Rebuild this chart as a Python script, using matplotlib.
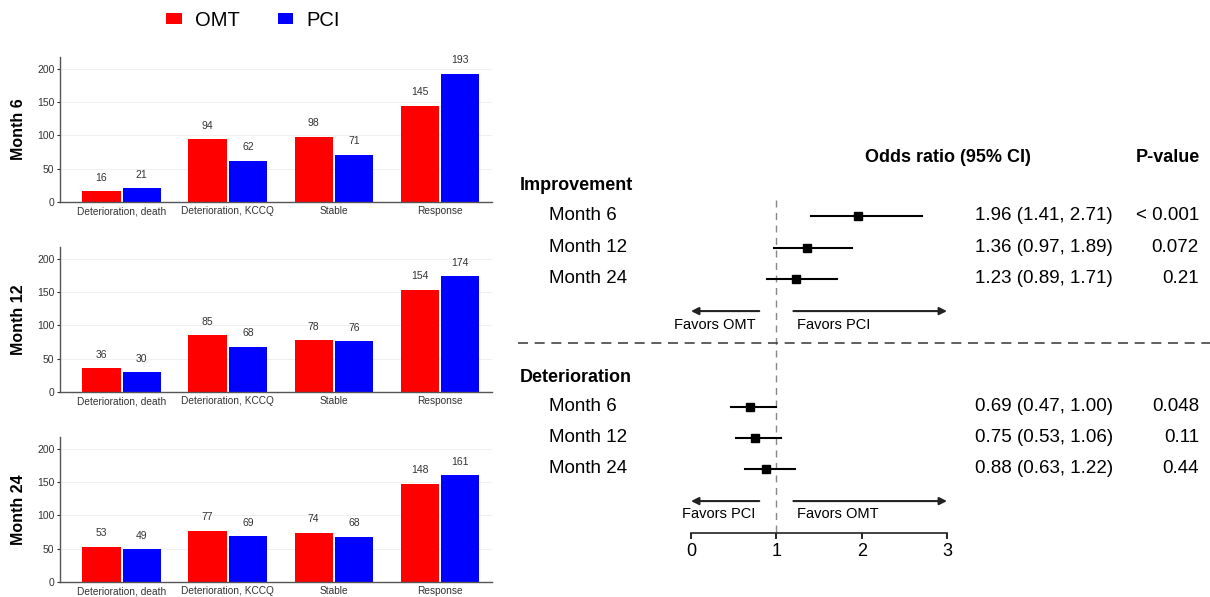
import matplotlib
matplotlib.use("Agg")
import matplotlib.pyplot as plt
import numpy as np
from matplotlib.transforms import blended_transform_factory

plt.rcParams["font.family"] = ["Liberation Sans", "DejaVu Sans"]

# ---- bar chart data ----
categories = ["Deterioration, death", "Deterioration, KCCQ", "Stable", "Response"]
months = ["Month 6", "Month 12", "Month 24"]
omt_counts = [
    [16, 94, 98, 145],
    [36, 85, 78, 154],
    [53, 77, 74, 148],
]
pci_counts = [
    [21, 62, 71, 193],
    [30, 68, 76, 174],
    [49, 69, 68, 161],
]

# ---- forest plot data ----
groups = ["Improvement", "Deterioration"]
row_labels = ["Month 6", "Month 12", "Month 24"]
odds_ratio = [[1.96, 1.36, 1.23], [0.69, 0.75, 0.88]]
ci_low = [[1.41, 0.97, 0.89], [0.47, 0.53, 0.63]]
ci_high = [[2.71, 1.89, 1.71], [1.00, 1.06, 1.22]]
p_values = [["< 0.001", "0.072", "0.21"], ["0.048", "0.11", "0.44"]]
favors = [("Favors OMT", "Favors PCI"), ("Favors PCI", "Favors OMT")]

C_OMT = "#FF0000"
C_PCI = "#0000FF"
W, H = 1210, 597

fig = plt.figure(figsize=(W / 100, H / 100), dpi=100)

# bar panels: (top, bottom) in pixels
panel_px = [(57, 202), (247, 392), (437, 582)]
x = np.arange(len(categories))
bw = 0.36
for i, (top, bot) in enumerate(panel_px):
    ax = fig.add_axes([60 / W, 1 - bot / H, 432 / W, (bot - top) / H])
    b1 = ax.bar(x - 0.19, omt_counts[i], bw, color=C_OMT, label="OMT", zorder=2)
    b2 = ax.bar(x + 0.19, pci_counts[i], bw, color=C_PCI, label="PCI", zorder=2)
    ax.bar_label(b1, padding=6, fontsize=7.5, color="#333333")
    ax.bar_label(b2, padding=6, fontsize=7.5, color="#333333")
    ax.set_xlim(-0.58, 3.49)
    ax.set_ylim(0, 218)
    ax.set_yticks([0, 50, 100, 150, 200])
    ax.set_xticks(x)
    ax.set_xticklabels(categories)
    ax.tick_params(axis="x", length=0, pad=3, labelsize=7.3, colors="#333333")
    ax.tick_params(axis="y", length=2, pad=2, labelsize=7.5, colors="#333333")
    ax.grid(True, axis="y", color="#EEEEEE", linewidth=0.6, zorder=0)
    for side in ["top", "right"]:
        ax.spines[side].set_visible(False)
    for side in ["left", "bottom"]:
        ax.spines[side].set_color("#555555")
        ax.spines[side].set_linewidth(1)
    ax.set_ylabel(months[i], fontsize=11.5, fontweight="bold", va="center")
    ax.yaxis.set_label_coords(-0.097, 0.5)
    if i == 0:
        handles = [b1, b2]

fig.legend(
    handles, ["OMT", "PCI"], loc="center", bbox_to_anchor=(253 / W, 1 - 20 / H),
    ncol=2, frameon=False, fontsize=14.5, handlelength=0.75, handleheight=0.45,
    handletextpad=0.65, columnspacing=1.9,
)

# ---- forest plot ----
ax_f = fig.add_axes([691 / W, 1 - 533 / H, 256 / W, 393 / H])
ax_f.set_xlim(0, 3)
ax_f.set_ylim(12.68, 0)
tr = blended_transform_factory(fig.transFigure, ax_f.transData)

header_y = 0.55
group_y = [1.48, 7.65]
rows_y = [[2.45, 3.48, 4.48], [8.61, 9.61, 10.61]]
arrow_y = [5.52, 11.65]
favor_y = [5.97, 12.06]
sep_y = 6.55

ax_f.text(948 / W, header_y, "Odds ratio (95% CI)", transform=tr, ha="center",
          va="center", fontsize=13, fontweight="bold")
ax_f.text(1200 / W, header_y, "P-value", transform=tr, ha="right",
          va="center", fontsize=13, fontweight="bold")

ax_f.plot([1, 1], [1.95, 12.68], color="#888888", lw=1, ls=(0, (5, 4)),
          clip_on=False)

for g in range(2):
    ax_f.text(520 / W, group_y[g], groups[g], transform=tr, ha="left",
              va="center", fontsize=13, fontweight="bold")
    for r in range(3):
        y = rows_y[g][r]
        ax_f.text(549 / W, y, row_labels[r], transform=tr, ha="left",
                  va="center", fontsize=13.5)
        ax_f.plot([ci_low[g][r], ci_high[g][r]], [y, y], color="black", lw=1.5)
        ax_f.plot(odds_ratio[g][r], y, marker="s", ms=6, color="black")
        est = f"{odds_ratio[g][r]:.2f} ({ci_low[g][r]:.2f}, {ci_high[g][r]:.2f})"
        ax_f.text(1113 / W, y, est, transform=tr, ha="right", va="center",
                  fontsize=13.5)
        ax_f.text(1199 / W, y, p_values[g][r], transform=tr, ha="right",
                  va="center", fontsize=13.5)
    ay = arrow_y[g]
    ax_f.annotate("", xy=(0, ay), xytext=(0.8, ay), annotation_clip=False,
                  arrowprops=dict(arrowstyle="-|>", color="#222222", lw=1.5,
                                  mutation_scale=11, shrinkA=0, shrinkB=0))
    ax_f.annotate("", xy=(3, ay), xytext=(1.2, ay), annotation_clip=False,
                  arrowprops=dict(arrowstyle="-|>", color="#222222", lw=1.5,
                                  mutation_scale=11, shrinkA=0, shrinkB=0))
    ax_f.text(0.76, favor_y[g], favors[g][0], ha="right", va="center",
              fontsize=10.5)
    ax_f.text(1.24, favor_y[g], favors[g][1], ha="left", va="center",
              fontsize=10.5)

ax_f.plot([518 / W, 1.0], [sep_y, sep_y], transform=tr, color="#444444",
          lw=1.2, ls=(0, (6, 4)), clip_on=False)

for side in ["top", "right", "left"]:
    ax_f.spines[side].set_visible(False)
ax_f.spines["bottom"].set_linewidth(1.2)
ax_f.spines["bottom"].set_color("#222222")
ax_f.set_yticks([])
ax_f.set_xticks([0, 1, 2, 3])
ax_f.tick_params(axis="x", length=4, width=1.2, pad=3, labelsize=13)
ax_f.patch.set_visible(False)

fig.savefig("out.png", dpi=100)
